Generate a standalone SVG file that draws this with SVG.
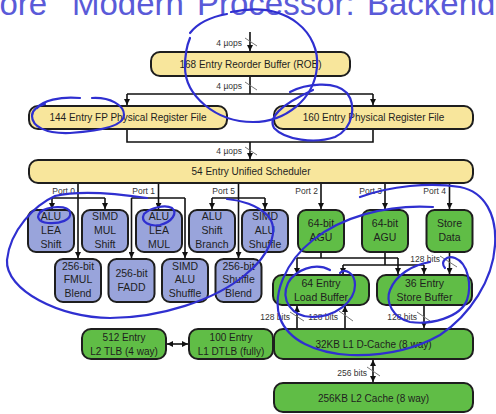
<svg xmlns="http://www.w3.org/2000/svg" width="496" height="414" viewBox="0 0 496 414">
<defs>
<style>
.box{stroke:#1e1e1e;stroke-width:2}
.y{fill:#f8e69c}
.b{fill:#99a4db}
.g{fill:#60bd46}
text{font-family:"Liberation Sans",Arial,sans-serif;fill:#1e1e1e;text-anchor:middle}
.t10{font-size:10px}
.t105{font-size:10.5px}
.sm{font-size:8.5px;fill:#333;text-anchor:end}
.c{fill:none;stroke:#111;stroke-width:1.6}
.sl{stroke:#777;stroke-width:1}
.ink{fill:none;stroke:#2f2fd0;stroke-width:2.2;stroke-linecap:round;stroke-linejoin:round}
</style>
<marker id="ah" viewBox="0 0 6 6" refX="6" refY="3" markerWidth="6" markerHeight="6" markerUnits="userSpaceOnUse" orient="auto-start-reverse"><path d="M0,0 L6,3 L0,6 z" fill="#111"/></marker>
</defs>
<rect width="496" height="414" fill="#fff"/>
<text y="15" style="font-size:33px;fill:#5a5ad8;text-anchor:start"><tspan x="-28">More</tspan><tspan x="72">Modern</tspan><tspan x="197">Processor:</tspan><tspan x="367">Backend</tspan></text>

<g id="connectors">
<path class="c" d="M250,32 V51" marker-end="url(#ah)"/>
<path class="c" d="M250,76 V94 M127,94 H373"/>
<path class="c" d="M127,94 V105" marker-end="url(#ah)"/>
<path class="c" d="M373,94 V105" marker-end="url(#ah)"/>
<path class="c" d="M127,129 V142 H373 V129"/>
<path class="c" d="M250,142 V159" marker-end="url(#ah)"/>
<path class="c" d="M78,183 V258" marker-end="url(#ah)"/>
<path class="c" d="M52,198 H105"/>
<path class="c" d="M52,198 V209" marker-end="url(#ah)"/>
<path class="c" d="M105,198 V209" marker-end="url(#ah)"/>
<path class="c" d="M158.5,183 V209" marker-end="url(#ah)"/>
<path class="c" d="M131.5,198 H185"/>
<path class="c" d="M131.5,198 V258" marker-end="url(#ah)"/>
<path class="c" d="M185,198 V258" marker-end="url(#ah)"/>
<path class="c" d="M238.5,183 V258" marker-end="url(#ah)"/>
<path class="c" d="M212,198 H265"/>
<path class="c" d="M212,198 V209" marker-end="url(#ah)"/>
<path class="c" d="M265,198 V209" marker-end="url(#ah)"/>
<path class="c" d="M321,183 V209" marker-end="url(#ah)"/>
<path class="c" d="M385,183 V209" marker-end="url(#ah)"/>
<path class="c" d="M449.5,183 V209" marker-end="url(#ah)"/>
<path class="c" d="M321,252 V258 M297,258 H398"/>
<path class="c" d="M297,258 V274" marker-end="url(#ah)"/>
<path class="c" d="M398,258 V274" marker-end="url(#ah)"/>
<path class="c" d="M385,252 V265 M343,265 H424"/>
<path class="c" d="M343,265 V274" marker-end="url(#ah)"/>
<path class="c" d="M424,265 V274" marker-end="url(#ah)"/>
<path class="c" d="M449.5,252 V274" marker-end="url(#ah)"/>
<path class="c" d="M297,329 V306" marker-end="url(#ah)"/>
<path class="c" d="M345,329 V306" marker-end="url(#ah)"/>
<path class="c" d="M424,305 V328" marker-end="url(#ah)"/>
<path class="c" d="M167,344 H188" marker-start="url(#ah)" marker-end="url(#ah)"/>
<path class="c" d="M373,360 V382" marker-start="url(#ah)" marker-end="url(#ah)"/>
<g class="sl">
<line x1="245" y1="38" x2="257" y2="46"/>
<line x1="245" y1="82" x2="257" y2="90"/>
<line x1="245" y1="147" x2="257" y2="155"/>
<line x1="440" y1="256" x2="457" y2="267"/>
<line x1="290" y1="312" x2="304" y2="321"/>
<line x1="339" y1="311" x2="353" y2="321"/>
<line x1="417" y1="312" x2="430" y2="321"/>
<line x1="367" y1="367" x2="380" y2="376"/>
</g>
<text class="sm" x="242" y="46">4 µops</text>
<text class="sm" x="242" y="89">4 µops</text>
<text class="sm" x="242" y="154">4 µops</text>
<text class="sm" x="75" y="194">Port 0</text>
<text class="sm" x="155" y="194">Port 1</text>
<text class="sm" x="235" y="194">Port 5</text>
<text class="sm" x="318" y="194">Port 2</text>
<text class="sm" x="382" y="194">Port 3</text>
<text class="sm" x="446" y="194">Port 4</text>
<text class="sm" x="440" y="262">128 bits</text>
<text class="sm" x="290" y="320">128 bits</text>
<text class="sm" x="338" y="320">128 bits</text>
<text class="sm" x="417" y="320">128 bits</text>
<text class="sm" x="367" y="376">256 bits</text>
</g>

<g id="rob"><rect class="box y" x="151" y="52" width="199" height="24" rx="9"/><text class="t10" x="250.5" y="67.5">168 Entry Reorder Buffer (ROB)</text></g>
<g id="fprf"><rect class="box y" x="29" y="106" width="198" height="23" rx="9"/><text class="t10" x="128" y="121">144 Entry FP Physical Register File</text></g>
<g id="intrf"><rect class="box y" x="274" y="106" width="199" height="23" rx="9"/><text class="t10" x="373.5" y="121">160 Entry Physical Register File</text></g>
<g id="sched"><rect class="box y" x="29" y="160" width="444" height="23" rx="9"/><text class="t10" x="251" y="175">54 Entry Unified Scheduler</text></g>

<g id="u-alu0"><rect class="box b" x="28" y="210" width="46" height="42" rx="8"/><text class="t105" x="51" y="219.7">ALU</text><text class="t105" x="51" y="234">LEA</text><text class="t105" x="51" y="248">Shift</text></g>
<g id="u-simdmul"><rect class="box b" x="82" y="210" width="46" height="42" rx="8"/><text class="t105" x="105" y="219.7">SIMD</text><text class="t105" x="105" y="234">MUL</text><text class="t105" x="105" y="248">Shift</text></g>
<g id="u-alu1"><rect class="box b" x="136" y="210" width="46" height="42" rx="8"/><text class="t105" x="159" y="219.7">ALU</text><text class="t105" x="159" y="234">LEA</text><text class="t105" x="159" y="248">MUL</text></g>
<g id="u-alu5"><rect class="box b" x="189" y="210" width="46" height="42" rx="8"/><text class="t105" x="212" y="219.7">ALU</text><text class="t105" x="212" y="234">Shift</text><text class="t105" x="212" y="248">Branch</text></g>
<g id="u-simdalu5"><rect class="box b" x="242" y="210" width="46" height="42" rx="8"/><text class="t105" x="265" y="219.7">SIMD</text><text class="t105" x="265" y="234">ALU</text><text class="t105" x="265" y="248">Shuffle</text></g>
<g id="u-fmul"><rect class="box b" x="55" y="259" width="46" height="43" rx="8"/><text class="t105" x="78" y="269.7">256-bit</text><text class="t105" x="78" y="283.2">FMUL</text><text class="t105" x="78" y="296.7">Blend</text></g>
<g id="u-fadd"><rect class="box b" x="108.5" y="259" width="46" height="43" rx="8"/><text class="t105" x="131.5" y="276.7">256-bit</text><text class="t105" x="131.5" y="290.7">FADD</text></g>
<g id="u-simdalu1"><rect class="box b" x="162" y="259" width="46" height="43" rx="8"/><text class="t105" x="185" y="269.7">SIMD</text><text class="t105" x="185" y="283.2">ALU</text><text class="t105" x="185" y="296.7">Shuffle</text></g>
<g id="u-shuf"><rect class="box b" x="215.5" y="259" width="46" height="43" rx="8"/><text class="t105" x="238.5" y="269.7">256-bit</text><text class="t105" x="238.5" y="283.2">Shuffle</text><text class="t105" x="238.5" y="296.7">Blend</text></g>

<g id="agu2"><rect class="box g" x="298" y="210" width="46" height="42" rx="8"/><text class="t105" x="321" y="226.7">64-bit</text><text class="t105" x="321" y="240.7">AGU</text></g>
<g id="agu3"><rect class="box g" x="362" y="210" width="46" height="42" rx="8"/><text class="t105" x="385" y="226.7">64-bit</text><text class="t105" x="385" y="240.7">AGU</text></g>
<g id="std"><rect class="box g" x="426.5" y="210" width="46" height="42" rx="8"/><text class="t105" x="449.5" y="226.7">Store</text><text class="t105" x="449.5" y="240.7">Data</text></g>
<g id="lb"><rect class="box g" x="273" y="275" width="96" height="30" rx="9"/><text class="t105" x="321" y="286.7">64 Entry</text><text class="t105" x="321" y="300.7">Load Buffer</text></g>
<g id="sb"><rect class="box g" x="377" y="275" width="95" height="30" rx="9"/><text class="t105" x="424.5" y="286.7">36 Entry</text><text class="t105" x="424.5" y="300.7">Store Buffer</text></g>
<g id="l2tlb"><rect class="box g" x="82" y="329" width="84" height="30" rx="9"/><text class="t10" x="124" y="340.5">512 Entry</text><text class="t10" x="124" y="354.5">L2 TLB (4 way)</text></g>
<g id="l1dtlb"><rect class="box g" x="189" y="329" width="84" height="30" rx="9"/><text class="t10" x="231" y="340.5">100 Entry</text><text class="t10" x="231" y="354.5">L1 DTLB (fully)</text></g>
<g id="l1d"><rect class="box g" x="274" y="329" width="199" height="30" rx="9"/><text class="t10" x="373.5" y="347.5">32KB L1 D-Cache (8 way)</text></g>
<g id="l2"><rect class="box g" x="274" y="383" width="199" height="29" rx="9"/><text class="t10" x="373.5" y="401.5">256KB L2 Cache (8 way)</text></g>

<g id="annotations" class="ink">
<path d="M190,33 C197,24 210,17 227,14"/>
<path d="M231,12 C290,0 320,35 317,67 C314,100 285,122 253,122 C215,122 185,95 185,67 C185,55 187,45 190,38"/>
<path d="M290,92 C305,84 335,80 347,93 C356,105 354,128 335,137 C315,144 285,140 274,128 C268,118 280,105 313,90"/>
<path d="M37,108 C42,101 60,96 80,98"/>
<path d="M92,98 C110,97 124,105 124,115 C124,126 100,131 70,133 C45,134 32,126 32,116 C32,110 38,106 45,104"/>
<path d="M147,198 C120,194 80,190 55,196 C35,205 10,230 7,260 C5,290 60,318 110,318 C160,318 215,300 245,275 C270,255 280,230 268,216 C258,205 240,200 227,199"/>
<path d="M40,212 C48,206 68,205 70,212 C72,220 60,224 48,223 C38,222 35,216 42,211"/>
<path d="M144,214 C150,208 165,204 172,208 C178,213 172,222 160,225 C150,227 140,222 144,214"/>
<path d="M360,197 C390,186 430,182 460,187 C485,192 497,215 495,245 C493,280 470,315 440,335 C410,352 380,356 350,355 C315,353 288,340 280,318 C272,295 285,262 313,240 C340,218 385,204 433,207"/>
<path d="M330,270 C315,262 295,270 288,283 C280,300 292,317 312,317 C335,317 355,302 355,285 C355,273 345,268 340,273"/>
<path d="M445,268 C440,262 446,255 455,258 C468,263 472,285 467,300 C460,318 430,325 410,322 C393,318 385,302 390,290 C396,275 412,265 430,262"/>
</g>
</svg>
